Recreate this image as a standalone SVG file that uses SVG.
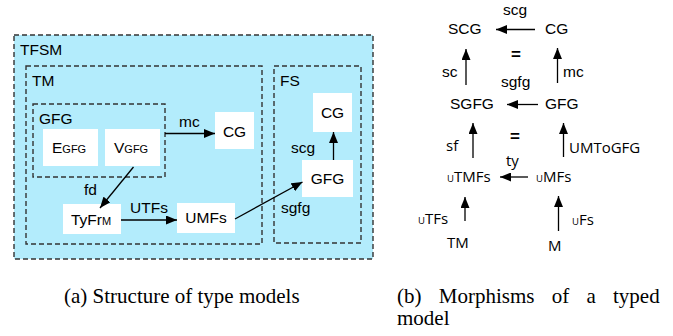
<svg xmlns="http://www.w3.org/2000/svg" width="673" height="336" viewBox="0 0 673 336">
<style>
.bg{fill:#ffffff}
.frame{fill:none;stroke:#333333;stroke-width:1.4;stroke-dasharray:5,3}
.tfsm{fill:#b3ecfc;stroke:#333333;stroke-width:1.4;stroke-dasharray:5,3}
.box{fill:#ffffff;stroke:none}
.t{font-family:"Liberation Sans",Arial,sans-serif;font-size:15.5px;fill:#000000}
.s{font-size:11px}
.n{font-family:"Open Sans","Liberation Sans",sans-serif;font-size:15px;fill:#000000}
.u{font-size:9.5px}
.eq{font-family:"Liberation Sans",Arial,sans-serif;font-size:17px;font-weight:bold;fill:#000000}
.cap{font-family:"Liberation Serif","Times New Roman",serif;font-size:21px;fill:#000000}
.e{fill:none;stroke:#000000;stroke-width:1.3;marker-end:url(#ah)}
</style>
<defs>
<marker id="ah" markerUnits="userSpaceOnUse" markerWidth="11" markerHeight="9" refX="11" refY="4.5" orient="auto">
<path d="M0,0 L11,4.5 L0,9 z" fill="#000000"/>
</marker>
</defs>
<rect class="bg" x="0" y="0" width="673" height="336"/>

<g id="tfsm">
<rect class="tfsm" x="14" y="35" width="359" height="224"/>
<text class="t" x="20" y="55">TFSM</text>
</g>
<g id="tm">
<rect class="frame" x="26" y="66" width="236" height="178"/>
<text class="t" x="32" y="86">TM</text>
</g>
<g id="gfg">
<rect class="frame" x="33" y="104" width="132" height="73"/>
<text class="t" x="39" y="124">GFG</text>
</g>
<g id="egfg">
<rect class="box" x="43" y="129" width="55" height="37"/>
<text class="t" x="52" y="153">E<tspan class="s">GFG</tspan></text>
</g>
<g id="vgfg">
<rect class="box" x="105" y="129" width="55" height="37"/>
<text class="t" x="114" y="153">V<tspan class="s">GFG</tspan></text>
</g>
<g id="cg-tm">
<rect class="box" x="215" y="112" width="39" height="37"/>
<text class="t" x="234.5" y="137" text-anchor="middle">CG</text>
</g>
<g id="tyfrm">
<rect class="box" x="63" y="204" width="58" height="30"/>
<text class="t" x="71" y="225">TyFr<tspan class="s">M</tspan></text>
</g>
<g id="umfs">
<rect class="box" x="177" y="203" width="58" height="30"/>
<text class="t" x="206" y="223" text-anchor="middle">UMFs</text>
</g>
<g id="fs">
<rect class="frame" x="274" y="66" width="87" height="177"/>
<text class="t" x="280" y="86">FS</text>
</g>
<g id="cg-fs">
<rect class="box" x="313" y="93" width="39" height="39"/>
<text class="t" x="332.5" y="118" text-anchor="middle">CG</text>
</g>
<g id="gfg-fs">
<rect class="box" x="302" y="160" width="51" height="37"/>
<text class="t" x="327.5" y="184" text-anchor="middle">GFG</text>
</g>

<g id="scg"><text class="t" x="448" y="34">SCG</text></g>
<g id="cg-r"><text class="t" x="545" y="34">CG</text></g>
<g id="sgfg"><text class="t" x="450" y="109">SGFG</text></g>
<g id="gfg-r"><text class="t" x="545" y="109">GFG</text></g>
<g id="utmfs"><text class="n" x="447" y="182"><tspan class="u">U</tspan>TMFs</text></g>
<g id="umfs-r"><text class="n" x="536" y="182"><tspan class="u">U</tspan>MFs</text></g>
<g id="tm-r"><text class="n" x="447" y="248">TM</text></g>
<g id="m-r"><text class="n" x="548" y="251">M</text></g>

<g id="connectors">
<line class="e" x1="165" y1="133.5" x2="215" y2="133.5"/>
<text class="t" x="179" y="127">mc</text>
<line class="e" x1="133.5" y1="167" x2="100" y2="208"/>
<text class="t" x="84" y="195">fd</text>
<line class="e" x1="121" y1="220" x2="177" y2="220"/>
<text class="t" x="130" y="213">UTFs</text>
<line class="e" x1="235" y1="219" x2="302.5" y2="182"/>
<text class="t" x="281" y="213">sgfg</text>
<line class="e" x1="333.5" y1="160" x2="333.5" y2="132"/>
<text class="t" x="291" y="153">scg</text>

<line class="e" x1="535" y1="29.5" x2="496" y2="29.5"/>
<text class="t" x="503" y="15">scg</text>
<text class="eq" x="516" y="60" text-anchor="middle">=</text>
<line class="e" x1="466" y1="85" x2="466" y2="49"/>
<text class="t" x="442" y="77">sc</text>
<line class="e" x1="557.5" y1="83" x2="557.5" y2="48"/>
<text class="t" x="563" y="77">mc</text>
<line class="e" x1="538" y1="104.5" x2="507" y2="104.5"/>
<text class="t" x="501" y="87">sgfg</text>
<line class="e" x1="473" y1="158" x2="473" y2="123"/>
<text class="n" x="446" y="151">sf</text>
<text class="eq" x="515" y="142" text-anchor="middle">=</text>
<line class="e" x1="563.5" y1="157" x2="563.5" y2="123"/>
<text class="n" x="569" y="153">UMToGFG</text>
<line class="e" x1="528" y1="177" x2="500" y2="177"/>
<text class="n" x="506" y="166">ty</text>
<line class="e" x1="465" y1="221" x2="465" y2="197"/>
<text class="n" x="418" y="224"><tspan class="u">U</tspan>TFs</text>
<line class="e" x1="558.5" y1="231" x2="558.5" y2="196"/>
<text class="n" x="572" y="225"><tspan class="u">U</tspan>Fs</text>
</g>

<text class="cap" x="64" y="303">(a) Structure of type models</text>
<text class="cap" x="397" y="303" word-spacing="12">(b) Morphisms of a typed</text>
<text class="cap" x="397" y="325">model</text>
</svg>
